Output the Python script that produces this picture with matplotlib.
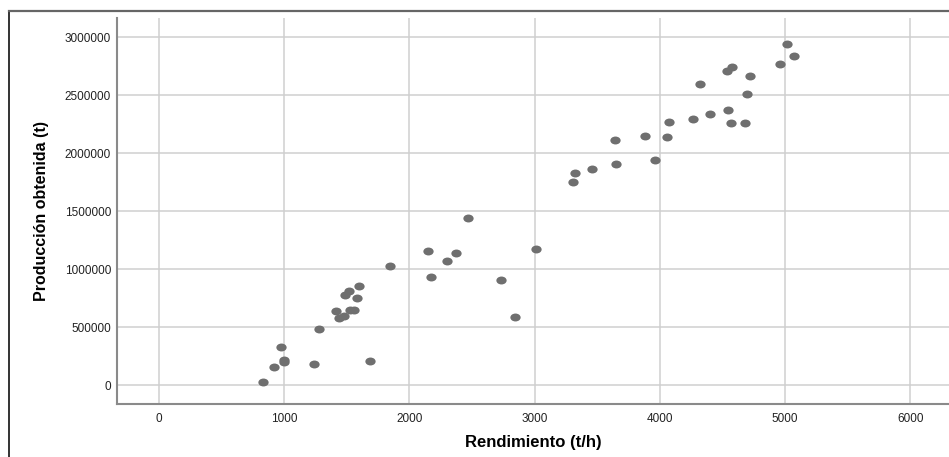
import matplotlib
matplotlib.use("Agg")
import matplotlib.pyplot as plt
import matplotlib.path as mpath
from matplotlib.transforms import Affine2D
from matplotlib.lines import Line2D

rendimiento = [831, 917, 978, 1000, 1002, 1234, 1276, 1412, 1441, 1479,
               1489, 1521, 1529, 1559, 1580, 1599, 1689, 1844, 2150, 2169,
               2302, 2372, 2470, 2728, 2840, 3008, 3304, 3325, 3460, 3640,
               3651, 3885, 3962, 4061, 4074, 4263, 4324, 4402, 4535, 4546,
               4572, 4580, 4679, 4700, 4719, 4961, 5017, 5071]
produccion = [31000, 158000, 333000, 200000, 218000, 183000, 488000, 640000, 583000, 597000,
              776000, 813000, 652000, 649000, 750000, 856000, 212000, 1031000, 1160000, 931000,
              1069000, 1143000, 1442000, 910000, 586000, 1178000, 1752000, 1827000, 1864000, 2117000,
              1905000, 2146000, 1942000, 2143000, 2272000, 2298000, 2595000, 2341000, 2707000, 2376000,
              2259000, 2747000, 2259000, 2509000, 2666000, 2770000, 2945000, 2839000]

x_ticks = [0, 1000, 2000, 3000, 4000, 5000, 6000]
y_ticks = [0, 500000, 1000000, 1500000, 2000000, 2500000, 3000000]

plt.rcParams['font.family'] = ['Liberation Sans', 'DejaVu Sans']

fig = plt.figure(figsize=(9.49, 4.57), dpi=100)
ax = fig.add_axes([0.123, 0.1153, 0.877, 0.8453])

# slightly wide ellipse like the SPSS markers
ell = mpath.Path.unit_circle().transformed(Affine2D().scale(1.3, 1.0))
ax.scatter(rendimiento, produccion, marker=ell, s=55, color='#6f6f6f', zorder=3, linewidths=0)

ax.set_xlim(-338, 6310)
ax.set_ylim(-163800, 3166000)
ax.set_xticks(x_ticks)
ax.set_yticks(y_ticks)
ax.set_xticklabels([str(t) for t in x_ticks])
ax.set_yticklabels([str(t) for t in y_ticks])
ax.grid(True, color='#cfcfcf', linewidth=1.1)
ax.set_axisbelow(True)
ax.tick_params(length=0, labelsize=8.5, colors='#222222')
ax.tick_params(axis='y', pad=4)
ax.tick_params(axis='x', pad=6)
for s in ['top', 'right']:
    ax.spines[s].set_visible(False)
for s in ['left', 'bottom']:
    ax.spines[s].set_color('#8a8a8a')
    ax.spines[s].set_linewidth(1.5)

ax.set_xlabel("Rendimiento (t/h)", fontsize=12, fontweight='bold')
ax.set_ylabel("Producción obtenida (t)", fontsize=11.5, fontweight='bold')
ax.xaxis.set_label_coords(0.5, -0.080)
ax.yaxis.set_label_coords(-0.081, 0.5)

# outer frame (left and top edges)
fig.add_artist(Line2D([9 / 949, 9 / 949], [0, 1 - 11 / 457], color='#111111', lw=1.2,
                      transform=fig.transFigure))
fig.add_artist(Line2D([9 / 949, 1], [1 - 11 / 457, 1 - 11 / 457], color='#666666', lw=1.6,
                      transform=fig.transFigure))

fig.savefig("out.png", dpi=100)
